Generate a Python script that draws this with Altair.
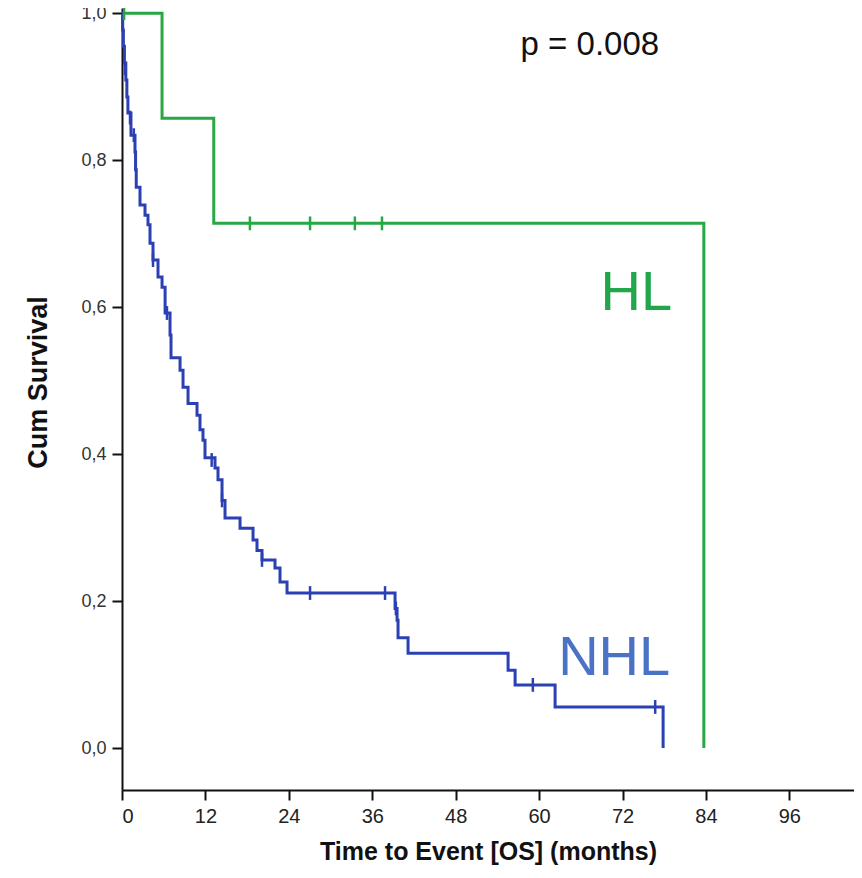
import altair as alt
import pandas as pd

# ---- data ----
hl_time = [0, 5.76, 13.2, 83.7]
hl_surv = [1.0, 0.857, 0.714, 0.0]
hl_cens_time = [0.3, 18.4, 27.05, 33.5, 37.4]
hl_cens_surv = [1.0, 0.714, 0.714, 0.714, 0.714]

nhl_time = [0, 0.1, 0.2, 0.35, 0.55, 0.7, 0.85, 1.29, 1.87, 1.95, 2.05, 2.59, 3.31, 3.74, 4.03,
            4.46, 5.18, 5.76, 6.2, 6.91, 7.05, 8.35, 8.78, 9.5, 10.79, 11.22, 11.65, 11.94, 13.38,
            13.81, 14.39, 14.82, 16.98, 18.85, 19.42, 20.14, 22.01, 22.73, 23.74, 39.28, 39.57,
            39.71, 41.15, 55.54, 56.55, 62.3, 77.84]
nhl_surv = [1.0, 0.977, 0.955, 0.932, 0.909, 0.886, 0.864, 0.834, 0.811, 0.787, 0.763, 0.739, 0.725,
            0.712, 0.687, 0.664, 0.641, 0.627, 0.592, 0.562, 0.531, 0.514, 0.491, 0.469, 0.453,
            0.433, 0.419, 0.395, 0.381, 0.365, 0.337, 0.313, 0.299, 0.283, 0.269, 0.256, 0.245,
            0.226, 0.211, 0.190, 0.174, 0.150, 0.129, 0.106, 0.086, 0.056, 0.0]
nhl_cens_time = [0.43, 1.15, 1.7, 4.46, 6.47, 12.9, 14.39, 20.14, 27.05, 37.84, 39.4, 59.1, 76.7]
nhl_cens_surv = [0.925, 0.858, 0.834, 0.664, 0.592, 0.392, 0.337, 0.256, 0.211, 0.211, 0.190, 0.086, 0.056]

groups = ["HL", "NHL"]
line_colors = ["#27A844", "#2B40B3"]
label_colors = ["#22A64C", "#4A73C6"]

x_ticks = [0, 12, 24, 36, 48, 60, 72, 84, 96]
y_ticks = [0.0, 0.2, 0.4, 0.6, 0.8, 1.0]

# annotation text anchors (data units)
label_text = ["HL", "NHL"]
label_t = [74.0, 70.8]
label_s = [0.596, 0.099]
p_text = ["p = 0.008"]
p_t = [67.3]
p_s = [0.943]

# ---- tables ----
curves = pd.concat([
    pd.DataFrame({"t": hl_time, "s": hl_surv, "g": "HL"}),
    pd.DataFrame({"t": nhl_time, "s": nhl_surv, "g": "NHL"}),
])
cens = pd.concat([
    pd.DataFrame({"t": hl_cens_time, "s": hl_cens_surv, "g": "HL"}),
    pd.DataFrame({"t": nhl_cens_time, "s": nhl_cens_surv, "g": "NHL"}),
])
labels = pd.DataFrame({"t": label_t, "s": label_s, "g": label_text})
pdf = pd.DataFrame({"t": p_t, "s": p_s, "txt": p_text})

xsc = alt.Scale(domain=[0, 105.3], nice=False, zero=False)
ysc = alt.Scale(domain=[-0.057, 1.007], nice=False, zero=False)
csc = alt.Scale(domain=groups, range=line_colors)
lsc = alt.Scale(domain=groups, range=label_colors)

FONT = "Liberation Sans"

xax = alt.Axis(values=x_ticks, title="Time to Event [OS] (months)", grid=False,
               labelFont=FONT, labelFontSize=20, labelColor="#222",
               labelPadding=6, titleFont=FONT, titleFontSize=25,
               titleFontWeight="bold", titleColor="#111", titlePadding=13)
yax = alt.Axis(values=y_ticks, title="Cum Survival", grid=False,
               labelExpr="replace(format(datum.value, '.1f'), '.', ',')",
               labelFont=FONT, labelFontSize=18, labelColor="#333",
               labelPadding=6, titleFont=FONT, titleFontSize=27,
               titleFontWeight="bold", titleColor="#111", titlePadding=28, titleY=374)

lines = alt.Chart(curves).mark_line(interpolate="step-after", strokeWidth=3).encode(
    x=alt.X("t:Q", scale=xsc, axis=xax),
    y=alt.Y("s:Q", scale=ysc, axis=yax),
    color=alt.Color("g:N", scale=csc, legend=None),
    detail="g:N",
)

marks = alt.Chart(cens).mark_point(shape="M0,-1L0,1", filled=False, strokeWidth=2.5,
                                    size=190, opacity=1).encode(
    x=alt.X("t:Q", scale=xsc),
    y=alt.Y("s:Q", scale=ysc),
    color=alt.Color("g:N", scale=csc, legend=None),
)

lab = alt.Chart(labels).mark_text(font=FONT, fontSize=56,
                                  align="center", baseline="alphabetic").encode(
    x=alt.X("t:Q", scale=xsc),
    y=alt.Y("s:Q", scale=ysc),
    text="g:N",
    color=alt.Color("g:N", scale=lsc, legend=None),
)

ptxt = alt.Chart(pdf).mark_text(font=FONT, fontSize=33, color="#111",
                                align="center", baseline="alphabetic").encode(
    x=alt.X("t:Q", scale=xsc),
    y=alt.Y("s:Q", scale=ysc),
    text="txt:N",
)

chart = alt.layer(lines, marks, lab, ptxt).resolve_scale(color="independent").properties(
    width=732, height=782,
    autosize=alt.AutoSizeParams(type="none"),
    padding={"left": 114, "top": 0, "right": 0, "bottom": 88},
    background="white",
).configure_view(stroke=None).configure_axis(
    domainColor="#111", domainWidth=2, tickColor="#111", tickWidth=2, tickSize=10,
)

chart.save("out.html", embed_options={"renderer": "svg", "actions": False})
